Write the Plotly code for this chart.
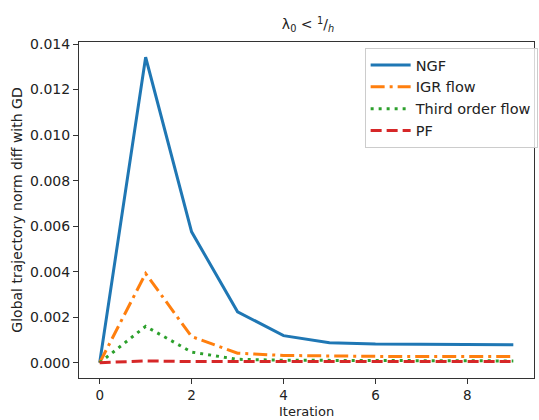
import plotly.graph_objects as go

iterations = [0, 1, 2, 3, 4, 5, 6, 7, 8, 9]
ngf = [0.0, 0.01342, 0.00575, 0.00224, 0.00119, 0.00088, 0.00082, 0.00080, 0.00079, 0.00079]
igr = [0.0, 0.00392, 0.00115, 0.00042, 0.00032, 0.00029, 0.00028, 0.00027, 0.00027, 0.00027]
third = [0.0, 0.00160, 0.00047, 0.00015, 0.00011, 0.00010, 0.00009, 0.00009, 0.00008, 0.00008]
pf = [0.0, 0.00008, 0.00005, 0.00005, 0.00005, 0.00005, 0.00005, 0.00005, 0.00005, 0.00005]

font = "DejaVu Sans, Verdana, sans-serif"

fig = go.Figure()
series = [
    ("NGF", ngf, "#1f77b4", "solid"),
    ("IGR flow", igr, "#ff7f0e", "14px,5px,3px,5px"),
    ("Third order flow", third, "#2ca02c", "3px,5px"),
    ("PF", pf, "#d62728", "11px,5px"),
]
for name, ys, color, dash in series:
    fig.add_trace(go.Scatter(x=iterations, y=ys, mode="lines", name=name,
                             line=dict(color=color, width=3, dash=dash)))

top_m, bot_m = 42, 42
plot_h = 420 - top_m - bot_m

fig.update_layout(
    width=539, height=420,
    margin=dict(l=79, r=1, t=top_m, b=bot_m),
    paper_bgcolor="white", plot_bgcolor="white",
    font=dict(family=font, size=14, color="#222"),
    title=dict(text="λ<sub>0</sub> &lt; <sup>1</sup>/<sub><i>h</i></sub>",
               x=0.5715, xanchor="center", y=0.93, yanchor="bottom",
               font=dict(size=14, color="#222")),
    showlegend=True,
    legend=dict(x=1.008, y=0.982, xanchor="right", yanchor="top",
                bgcolor="rgba(255,255,255,0.8)", bordercolor="#cccccc", borderwidth=1,
                font=dict(size=14.5), tracegroupgap=0, itemwidth=40),
    xaxis=dict(range=[-0.45, 9.45], tickmode="array", tickvals=[0, 2, 4, 6, 8],
               showgrid=False, zeroline=False, showline=True, linecolor="#333", linewidth=1,
               mirror=True, ticks="outside", ticklen=5, tickcolor="#333",
               ticklabelstandoff=0, tickfont=dict(size=13.5)),
    yaxis=dict(range=[-0.00067, 0.01409], tickmode="array",
               tickvals=[0, 0.002, 0.004, 0.006, 0.008, 0.010, 0.012, 0.014],
               tickformat=".3f",
               showgrid=False, zeroline=False, showline=True, linecolor="#333", linewidth=1,
               mirror=True, ticks="outside", ticklen=5, tickcolor="#333",
               title=dict(text="Global trajectory norm diff with GD", standoff=4, font=dict(size=14))),
    annotations=[dict(text="Iteration", xref="paper", yref="paper", x=0.5, xanchor="center",
                      y=-bot_m / plot_h, yanchor="bottom", showarrow=False,
                      borderpad=0, font=dict(size=13))],
)

fig.write_html("out.html")
